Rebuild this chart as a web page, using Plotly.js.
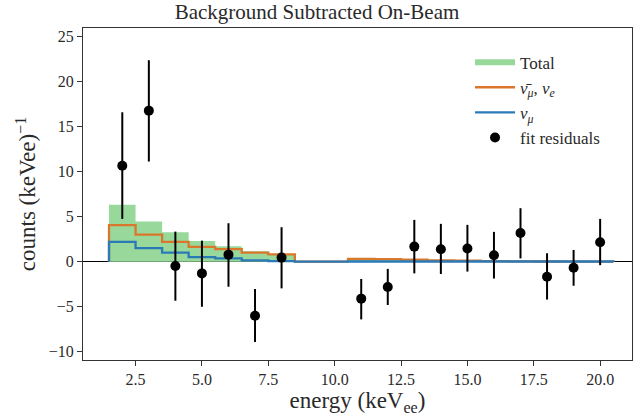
<!DOCTYPE html>
<html>
<head>
<meta charset="utf-8">
<script src="https://cdn.plot.ly/plotly-3.0.1.min.js"></script>
<style>html,body{margin:0;padding:0;background:#fff;}#chart{width:634px;height:416px;}</style>
</head>
<body>
<div id="chart"></div>
<script>
// Histogram bin centres (keVee), bin width 1
const binCenters = [2,3,4,5,6,7,8,9,10,11,12,13,14,15,16,17,18,19,20];
const totalCounts = [6.3,4.45,3.25,2.3,1.7,1.15,0.86,0,0,0.32,0.3,0.24,0.17,0.12,0.08,0.05,0.05,0.04,0.03];
const nubarMuNueCounts = [4.05,3.0,2.2,1.65,1.38,1.0,0.81,0,0,0.3,0.28,0.22,0.15,0.1,0.06,0.03,0.02,0.01,0.01];
const nuMuCounts = [2.2,1.5,1.0,0.5,0.37,0.15,0.05,0,0,0.02,0.02,0.02,0.02,0.02,0.02,0.02,0.02,0.02,0.02];

// Fit residuals
const resX = [2,3,4,5,6,7,8,11,12,13,14,15,16,17,18,19,20];
const resY = [10.63,16.74,-0.48,-1.3,0.78,-6.0,0.45,-4.1,-2.8,1.67,1.38,1.45,0.72,3.17,-1.67,-0.67,2.15];
const resUpper = [16.56,22.33,3.33,2.33,4.26,-3.03,3.82,-1.92,-0.8,4.63,4.19,4.08,3.3,5.93,0.93,1.3,4.74];
const resLower = [4.74,11.1,-4.33,-5.0,-2.78,-8.9,-2.96,-6.4,-4.8,-1.3,-1.37,-1.1,-1.87,0.36,-4.2,-2.67,-0.39];

const xTickVals = [2.5,5.0,7.5,10.0,12.5,15.0,17.5,20.0];
const yTickVals = [-10,-5,0,5,10,15,20,25];

function stepTrace(vals){
  const xs=[binCenters[0]-0.5], ys=[0];
  for(let i=0;i<binCenters.length;i++){ xs.push(binCenters[i]-0.5); ys.push(vals[i]); }
  xs.push(binCenters[binCenters.length-1]+0.5); ys.push(0);
  return {xs, ys};
}
const totalStep = stepTrace(totalCounts);
const orangeStep = stepTrace(nubarMuNueCounts);
const blueStep = stepTrace(nuMuCounts);

const FONT = "Liberation Serif, DejaVu Serif, serif";
const TXT = '#2a2a2a';

const traces = [
  {type:'scatter', mode:'none', x:totalStep.xs, y:totalStep.ys, line:{shape:'hv'}, fill:'tozeroy',
   fillcolor:'#98d99b', name:'Total', hoverinfo:'skip'},
  {type:'scatter', mode:'lines', x:orangeStep.xs, y:orangeStep.ys, line:{shape:'hv', color:'#d9772c', width:2.3},
   name:'<i>ν̄</i><sub><i>μ</i></sub>, <i>ν</i><sub><i>e</i></sub>'},
  {type:'scatter', mode:'lines', x:blueStep.xs, y:blueStep.ys, line:{shape:'hv', color:'#2a7ab8', width:2.3},
   name:'<i>ν</i><sub><i>μ</i></sub>'},
  {type:'scatter', mode:'markers', x:resX, y:resY, name:'fit residuals',
   marker:{color:'black', size:10},
   error_y:{type:'data', symmetric:false,
     array:resY.map((v,i)=>resUpper[i]-v), arrayminus:resY.map((v,i)=>v-resLower[i]),
     color:'black', thickness:2, width:0}}
];

const layout = {
  width:634, height:416,
  margin:{l:83, r:2, t:28, b:56},
  paper_bgcolor:'white', plot_bgcolor:'white',
  font:{family:FONT, size:16, color:TXT},
  title:{text:'Background Subtracted On-Beam', font:{family:FONT, size:21, color:TXT}, x:0.5, xanchor:'center', y:0.99, yanchor:'top'},
  showlegend:true,
  legend:{x:0.705, y:0.95, xanchor:'left', yanchor:'top', bgcolor:'rgba(255,255,255,0)', borderwidth:0,
    font:{family:FONT, size:17, color:TXT}, itemwidth:40, tracegroupgap:0},
  xaxis:{range:[0.52,21.2], tickvals:xTickVals, ticktext:xTickVals.map(v=>v.toFixed(1)),
    ticks:'outside', ticklen:5, tickwidth:1, tickcolor:'#333', showgrid:false, zeroline:false,
    showline:true, linecolor:'#333', linewidth:1, mirror:true,
    title:{text:'energy (keV<sub>ee</sub>)', font:{family:FONT, size:23, color:TXT}, standoff:4},
    tickfont:{family:FONT, size:16, color:TXT}},
  yaxis:{range:[-10.9,25.9], tickvals:yTickVals,
    ticks:'outside', ticklen:5, tickwidth:1, tickcolor:'#333', showgrid:false,
    zeroline:true, zerolinecolor:'black', zerolinewidth:1.6,
    showline:true, linecolor:'#333', linewidth:1, mirror:true,
    title:{text:'counts (keVee)<sup>−1</sup>', font:{family:FONT, size:23, color:TXT}, standoff:6},
    tickfont:{family:FONT, size:16, color:TXT}}
};

Plotly.newPlot('chart', traces, layout, {displayModeBar:false, staticPlot:true});
</script>
</body>
</html>
